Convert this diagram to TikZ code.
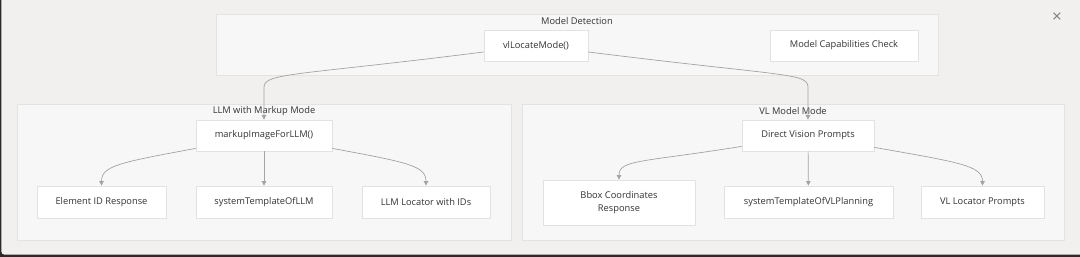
\documentclass[tikz,border=0pt]{standalone}
\usepackage{fontspec}
\setmainfont{Open Sans}
\usepackage{tikz}
\usetikzlibrary{arrows.meta}
\definecolor{winbg}{HTML}{F1F0EE}
\definecolor{winframe}{HTML}{2A2A2A}
\definecolor{clfill}{HTML}{F7F7F7}
\definecolor{cldraw}{HTML}{E3E3E3}
\definecolor{bxdraw}{HTML}{E2E2E2}
\definecolor{edgec}{HTML}{A3A3A3}
\definecolor{txtc}{HTML}{333333}
\tikzset{
  cluster/.style ={draw=cldraw, fill=clfill, line width=0.8pt, inner sep=0pt},
  cltitle/.style ={font=\fontsize{9.3}{11}\selectfont, text=txtc, inner sep=0pt},
  fnbox/.style   ={draw=bxdraw, fill=white, line width=0.8pt, inner sep=0pt,
                   font=\fontsize{9.3}{13.8}\selectfont, text=txtc, align=center},
  flow/.style    ={-{Triangle[length=4.5pt,width=4.5pt]}, draw=edgec,
                   line width=0.7pt},
}
\begin{document}
\begin{tikzpicture}[x=1pt,y=1pt]
  \useasboundingbox (0,0) rectangle (1080,257);
  % window
  \fill[winframe] (0,0) rectangle (1080,257);
  \fill[winbg, rounded corners=3pt] (1.4,2.4) rectangle (1084,261);
  \node[text=black!50, font=\fontsize{17}{17}\selectfont, inner sep=0pt] (close) at (1057,239) {×};
  % groups
  \node[cluster, minimum width=722pt, minimum height=61pt]  (det) at (577,212.5) {};
  \node[cluster, minimum width=494pt, minimum height=136pt] (llm) at (264,85) {};
  \node[cluster, minimum width=542pt, minimum height=136pt] (vlm) at (793,85) {};
  \node[cltitle] (detT) at (577,236) {Model Detection};
  \node[cltitle] (llmT) at (264,146) {LLM with Markup Mode};
  \node[cltitle] (vlmT) at (793,146) {VL Model Mode};
  % boxes
  \node[fnbox, minimum width=104pt, minimum height=31pt] (loc)  at (536,211.5) {vlLocateMode()};
  \node[fnbox, minimum width=148pt, minimum height=31pt] (cap)  at (844,211.5) {Model Capabilities Check};
  \node[fnbox, minimum width=136pt, minimum height=31pt] (mark) at (264,121.5) {markupImageForLLM()};
  \node[fnbox, minimum width=129pt, minimum height=32pt] (eid)  at (101.5,55)  {Element ID Response};
  \node[fnbox, minimum width=136pt, minimum height=32pt] (stl)  at (264,55)    {systemTemplateOfLLM};
  \node[fnbox, minimum width=128pt, minimum height=32pt] (lli)  at (426,55)    {LLM Locator with IDs};
  \node[fnbox, minimum width=132pt, minimum height=31pt] (dvp)  at (808,121.5) {Direct Vision Prompts};
  \node[fnbox, minimum width=152pt, minimum height=45pt] (bbox) at (619,54.5)  {Bbox Coordinates\\Response};
  \node[fnbox, minimum width=169pt, minimum height=32pt] (svl)  at (808.5,55)  {systemTemplateOfVLPlanning};
  \node[fnbox, minimum width=123pt, minimum height=32pt] (vlp)  at (982.5,55)  {VL Locator Prompts};
  % edges
  \draw[flow] ([yshift=-6.5pt]loc.west) .. controls +(-190,-24) and +(0,15) .. ([yshift=32pt]mark.north) -- (mark.north);
  \draw[flow] ([yshift=-6.5pt]loc.east) .. controls +(200,-25) and +(0,15) .. ([yshift=32pt]dvp.north) -- (dvp.north);
  \draw[flow] ([yshift=3pt]mark.south west) .. controls +(-75,-14) and +(0,20) .. (eid.north);
  \draw[flow] (mark) -- (stl);
  \draw[flow] ([yshift=3pt]mark.south east) .. controls +(75,-14) and +(0,20) .. (lli.north);
  \draw[flow] ([yshift=5pt]dvp.south west) .. controls +(-100,-16) and +(0,20) .. (bbox.north);
  \draw[flow] (dvp) -- (svl);
  \draw[flow] ([yshift=4pt]dvp.south east) .. controls +(85,-15) and +(0,20) .. (vlp.north);
\end{tikzpicture}
\end{document}
